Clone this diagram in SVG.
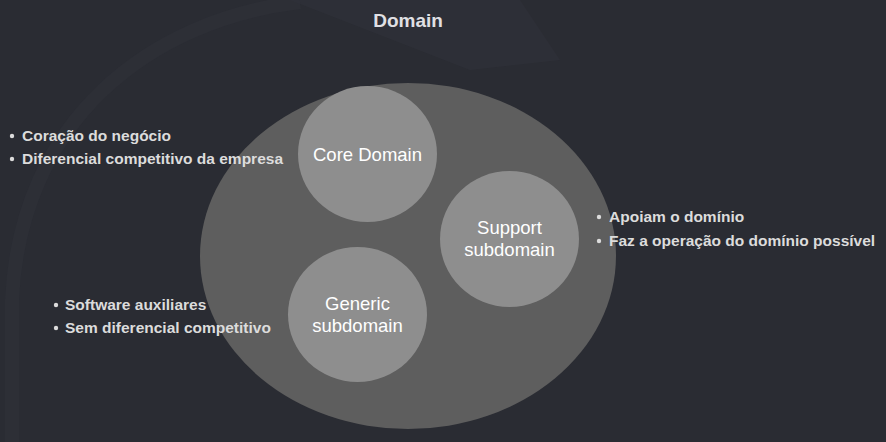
<svg xmlns="http://www.w3.org/2000/svg" width="886" height="442" viewBox="0 0 886 442">
<style>
.bg{fill:#2a2c33}
.wm{fill:#30323a}
.outer{fill:#5e5e5e}
.inner{fill:#8e8e8e}
.lbl{font-family:"Liberation Sans",Arial,sans-serif;font-size:18.5px;fill:#ffffff;text-anchor:middle}
.title{font-family:"Liberation Sans",Arial,sans-serif;font-size:19px;font-weight:bold;fill:#e0e0e4;text-anchor:middle}
.note{font-family:"Liberation Sans",Arial,sans-serif;font-size:15.5px;font-weight:bold;fill:#dcdcdc}
.dot{fill:#dcdcdc}
</style>
<rect class="bg" x="0" y="0" width="886" height="442"/>
<path class="wm" d="M290,0 L520,0 L560,60 L470,70 Z" opacity="0.6"/>
<path d="M300,2 C150,20 20,120 12,300 L12,442" fill="none" stroke="#30323a" stroke-width="14" opacity="0.5"/>
<g id="domain">
<ellipse class="outer" cx="408" cy="256" rx="208" ry="173"/>
<text class="title" x="408" y="27">Domain</text>
</g>
<g id="core-domain">
<ellipse class="inner" cx="367.5" cy="154" rx="69.5" ry="68"/>
<text class="lbl" x="367.5" y="161">Core Domain</text>
</g>
<g id="support-subdomain">
<ellipse class="inner" cx="509.5" cy="239" rx="69.5" ry="68"/>
<text class="lbl" x="509.5" y="234">Support</text>
<text class="lbl" x="509.5" y="256">subdomain</text>
</g>
<g id="generic-subdomain">
<ellipse class="inner" cx="357.5" cy="314.5" rx="69.5" ry="67.5"/>
<text class="lbl" x="357.5" y="310">Generic</text>
<text class="lbl" x="357.5" y="332">subdomain</text>
</g>
<g id="core-notes">
<circle class="dot" cx="12" cy="136" r="2.2"/>
<text class="note" x="22" y="141">Coração do negócio</text>
<circle class="dot" cx="12" cy="159" r="2.2"/>
<text class="note" x="22" y="164">Diferencial competitivo da empresa</text>
</g>
<g id="support-notes">
<circle class="dot" cx="599" cy="217" r="2.2"/>
<text class="note" x="609" y="222">Apoiam o domínio</text>
<circle class="dot" cx="599" cy="241" r="2.2"/>
<text class="note" x="609" y="246">Faz a operação do domínio possível</text>
</g>
<g id="generic-notes">
<circle class="dot" cx="56" cy="305" r="2.2"/>
<text class="note" x="65" y="310">Software auxiliares</text>
<circle class="dot" cx="56" cy="328" r="2.2"/>
<text class="note" x="65" y="333">Sem diferencial competitivo</text>
</g>
<g id="connectors"></g>
</svg>
